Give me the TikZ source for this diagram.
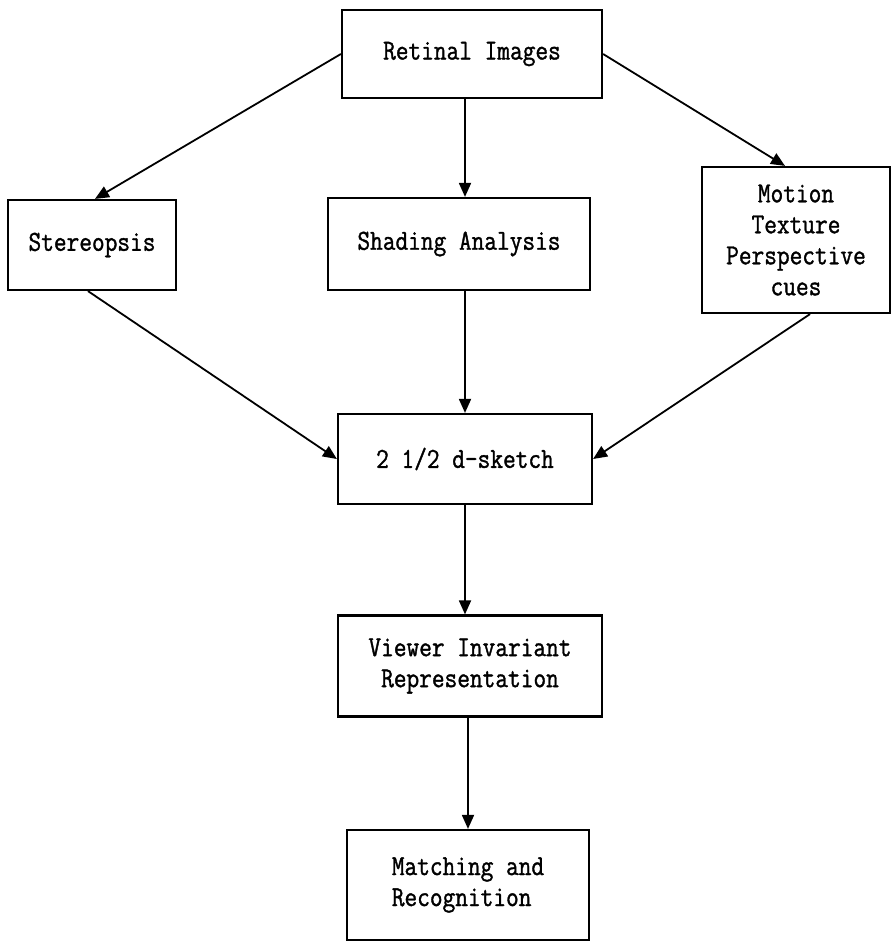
\documentclass[tikz,border=0pt]{standalone}
\usepackage{fontspec}
\newfontfamily\boxfont{Latin Modern Mono}[FakeStretch=0.85,FakeBold=1.2]
\usetikzlibrary{arrows.meta}
\begin{document}
\begin{tikzpicture}[x=1pt,y=-1pt,
  box/.style={draw,line width=2.2pt,rectangle,inner sep=0pt,align=center,
    font=\boxfont\fontsize{29}{31}\selectfont},
  conn/.style={line width=1.8pt,-{Triangle[length=14pt,width=12pt]},shorten >=0pt}]
\useasboundingbox (0,0) rectangle (892,943);
\node[box,minimum width=260pt,minimum height=88pt] (ret) at (472,54) {Retinal Images};
\node[box,minimum width=168pt,minimum height=90pt] (ste) at (92,245) {Stereopsis};
\node[box,minimum width=262pt,minimum height=92pt] (sha) at (459,244) {Shading Analysis};
\node[box,minimum width=188pt,minimum height=146pt] (mot) at (796,240) {Motion\\Texture\\Perspective\\cues};
\node[box,minimum width=254pt,minimum height=90pt] (sk) at (465,459) {2 1/2 d-sketch};
\node[box,minimum width=264pt,minimum height=101pt] (vi) at (470,666) {Viewer Invariant\\Representation};
\node[box,minimum width=242pt,minimum height=110pt,align=left] (ma) at (468,885) {Matching and\\Recognition};
\draw[conn] (ret.west) -- ([xshift=3pt]ste.north);
\draw[conn] (ret.south -| sk.north) -- (sha.north -| sk.north);
\draw[conn] (ret.east) -- ([xshift=-11pt]mot.north);
\draw[conn] ([xshift=-4pt]ste.south) -- (sk.west);
\draw[conn] (sha.south -| sk.north) -- (sk.north);
\draw[conn] ([xshift=14pt]mot.south) -- (sk.east);
\draw[conn] (sk.south) -- (vi.north -| sk.south);
\draw[conn] (vi.south -| ma.north) -- (ma.north);
\end{tikzpicture}
\end{document}
